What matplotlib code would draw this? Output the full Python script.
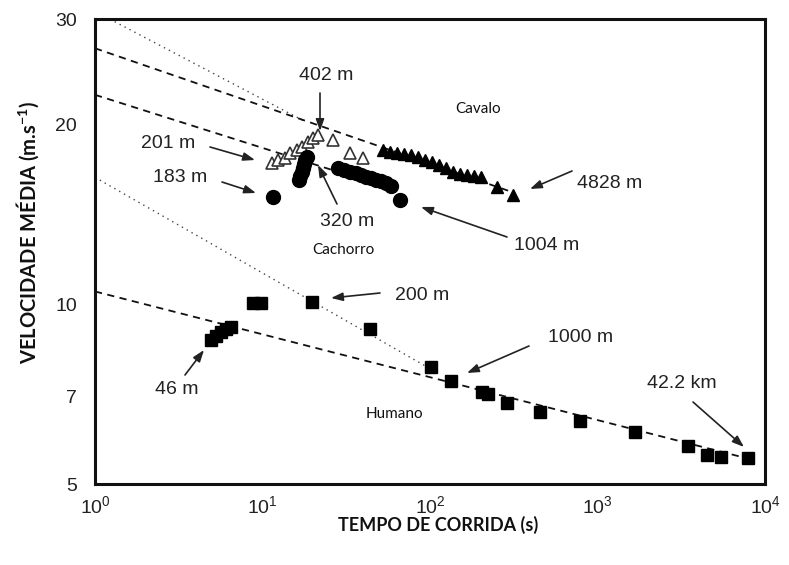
import matplotlib
matplotlib.use('Agg')
import matplotlib.pyplot as plt
from matplotlib.ticker import FixedLocator, FixedFormatter, NullLocator

# ---------------- data ----------------
# Humano (squares)
human_t = [4.93, 5.28, 5.65, 6.05, 6.49, 8.78, 9.79, 19.7, 43.8, 101, 133.5,
           204, 222, 288, 454, 787, 1675, 3470, 4505, 5460, 7920]
human_v = [8.71, 8.84, 8.98, 9.08, 9.15, 10.04, 10.04, 10.08, 9.08, 7.85, 7.43,
           7.13, 7.07, 6.83, 6.60, 6.37, 6.11, 5.79, 5.59, 5.55, 5.53]

# Cavalo, open triangles (short races)
horse_open_t = [11.39, 12.38, 13.62, 14.59, 16.07, 17.22, 18.69, 20.02, 21.45,
                26.37, 33.30, 39.81]
horse_open_v = [17.22, 17.42, 17.56, 17.90, 18.11, 18.32, 18.68, 18.97, 19.19,
                18.82, 17.90, 17.56]

# Cavalo, filled triangles
horse_t = [52.4, 57.7, 63.5, 69.9, 77.0, 84.8, 93.3, 102.8, 113.2, 124.6, 137.2,
           151.1, 166.3, 183.1, 201.6, 251.2, 313]
horse_v = [18.11, 17.97, 17.90, 17.84, 17.77, 17.62, 17.42, 17.29, 17.09, 16.89,
           16.64, 16.51, 16.44, 16.38, 16.32, 15.70, 15.22]

# Cachorro, filled circles
dog_t = [11.55, 16.52, 16.75, 17.22, 17.45, 17.69, 17.94, 18.44, 28.23, 30.66,
         33.30, 36.16, 38.73, 41.49, 44.44, 47.61, 51.00, 54.62, 58.52, 66.22]
dog_v = [15.10, 16.13, 16.38, 16.64, 16.89, 17.16, 17.42, 17.62, 16.89, 16.77,
         16.64, 16.57, 16.44, 16.32, 16.26, 16.13, 16.07, 15.94, 15.76, 14.93]

# trend lines (end points)
horse_dot_t = [1, 18];    horse_dot_v = [30.9, 20.2]
horse_dash_t = [1, 320];  horse_dash_v = [26.8, 15.35]
dog_dash_t = [1, 28];     dog_dash_v = [22.4, 16.66]
human_dot_t = [1, 110];   human_dot_v = [16.3, 7.68]
human_dash_t = [1, 8000]; human_dash_v = [10.5, 5.51]

y_ticks = [5, 7, 10, 20, 30]
y_tick_labels = ['5', '7', '10', '20', '30']
x_ticks = [1, 10, 100, 1000, 10000]
x_tick_labels = ['$10^0$', '$10^1$', '$10^2$', '$10^3$', '$10^4$']

# ---------------- figure ----------------
plt.rcParams['mathtext.default'] = 'regular'
plt.rcParams['mathtext.fontset'] = 'custom'
plt.rcParams['mathtext.rm'] = 'Liberation Sans'
plt.rcParams['mathtext.it'] = 'Liberation Sans'

W, H = 789, 565
fig = plt.figure(figsize=(W / 100, H / 100), dpi=100)
ax = fig.add_axes([95 / W, 1 - 484 / H, 670 / W, 465 / H])
ax.set_xscale('log')
ax.set_yscale('log')
ax.set_xlim(1, 1e4)
ax.set_ylim(5, 30)

ink = '#111111'
ax.plot(horse_dot_t, horse_dot_v, linestyle=(0, (1, 3)), color='#444444', lw=1.0)
ax.plot(horse_dash_t, horse_dash_v, linestyle=(0, (4, 3)), color=ink, lw=1.3)
ax.plot(dog_dash_t, dog_dash_v, linestyle=(0, (4, 3)), color=ink, lw=1.3)
ax.plot(human_dot_t, human_dot_v, linestyle=(0, (1, 3)), color='#444444', lw=1.0)
ax.plot(human_dash_t, human_dash_v, linestyle=(0, (4, 3)), color=ink, lw=1.3)

ax.plot(human_t, human_v, 's', color='black', ms=8, linestyle='none')
ax.plot(horse_t, horse_v, '^', color='black', ms=8.5, linestyle='none')
ax.plot(horse_open_t, horse_open_v, '^', mfc='white', mec='#333333', mew=1.2,
        ms=8.5, linestyle='none')
ax.plot(dog_t, dog_v, 'o', color='black', ms=10, linestyle='none')

for s in ax.spines.values():
    s.set_linewidth(2.2)
    s.set_color(ink)

ax.yaxis.set_major_locator(FixedLocator(y_ticks))
ax.yaxis.set_major_formatter(FixedFormatter(y_tick_labels))
ax.yaxis.set_minor_locator(NullLocator())
ax.xaxis.set_major_locator(FixedLocator(x_ticks))
ax.xaxis.set_major_formatter(FixedFormatter(x_tick_labels))
ax.xaxis.set_minor_locator(NullLocator())
ax.tick_params(axis='both', which='both', length=0, labelsize=14,
               labelcolor='#222222')
ax.tick_params(axis='y', pad=13)
ax.tick_params(axis='x', pad=8)
for lab in ax.get_xticklabels() + ax.get_yticklabels():
    lab.set_fontfamily('Liberation Sans')

fig.text(438 / W, 1 - 525 / H, 'TEMPO DE CORRIDA (s)', ha='center', va='center',
         fontsize=13, fontweight='bold', family='Lato', color='#111111')
fig.text(28 / W, 1 - 232 / H, 'VELOCIDADE MÉDIA (m.s$^{-1}$)', ha='center',
         va='center', rotation=90, fontsize=14.5, fontweight='bold',
         family='Lato', color='#111111')

# ---------------- annotations (figure pixel positions) ----------------
def fp(px, py):
    return (px, H - py)

labels = [
    ('402 m', 326, 75), ('201 m', 168, 143), ('183 m', 180, 178),
    ('320 m', 347, 221), ('4828 m', 610, 184), ('1004 m', 547, 245),
    ('200 m', 422, 296), ('46 m', 177, 389), ('1000 m', 581, 338),
    ('42.2 km', 682, 383),
]
for txt, px, py in labels:
    ax.annotate(txt, xy=fp(px, py), xycoords='figure pixels', ha='center',
                va='center', fontsize=14, family='Liberation Sans',
                color='#222222')

names = [('Cavalo', 478, 109), ('Cachorro', 343, 250), ('Humano', 394, 414)]
for txt, px, py in names:
    ax.annotate(txt, xy=fp(px, py), xycoords='figure pixels', ha='center',
                va='center', fontsize=11, family='Lato', color='#111111')

arrows = [
    ((320, 93), (320, 131)),
    ((210, 147), (255, 160)),
    ((222, 182), (256, 193)),
    ((337, 204), (318, 165)),
    ((572, 171), (530, 189)),
    ((507, 237), (421, 207)),
    ((380, 293), (331, 298)),
    ((185, 375), (204, 350)),
    ((529, 346), (467, 373)),
    ((693, 402), (744, 447)),
]
for tail, head in arrows:
    ax.annotate('', xy=fp(*head), xytext=fp(*tail), xycoords='figure pixels',
                textcoords='figure pixels',
                arrowprops=dict(arrowstyle='-|>,head_length=0.7,head_width=0.25',
                                lw=1.2, color='#222222', shrinkA=0, shrinkB=0))

fig.savefig('out.png', dpi=100)
